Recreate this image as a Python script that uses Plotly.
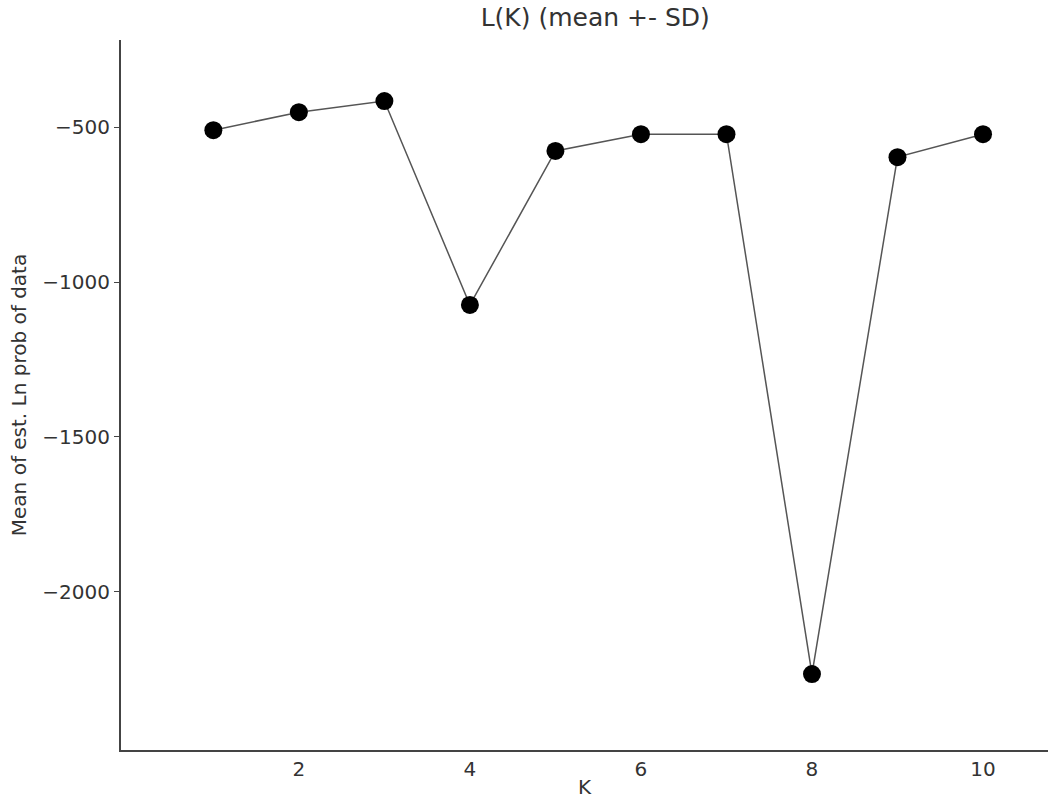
import plotly.graph_objects as go

K = [1, 2, 3, 4, 5, 6, 7, 8, 9, 10]
mean_lnp = [-510, -452, -416, -1074, -577, -523, -523, -2265, -597, -523]
x_ticks = [2, 4, 6, 8, 10]
y_ticks = [-500, -1000, -1500, -2000]

fig = go.Figure()
fig.add_trace(go.Scatter(
    x=K, y=mean_lnp, mode="lines+markers",
    line=dict(color="#555555", width=1.5),
    marker=dict(color="black", size=18),
    showlegend=False,
))

font = "DejaVu Sans, Arial, sans-serif"
txt = "#333333"
fig.update_layout(
    width=1048, height=806,
    paper_bgcolor="white", plot_bgcolor="white",
    margin=dict(l=121, r=0, t=40, b=56, autoexpand=False),
    title=dict(text="L(K) (mean +- SD)", x=0.568, xanchor="center",
               y=0.978, yanchor="middle",
               font=dict(family=font, size=25, color=txt)),
    font=dict(family=font, size=20, color=txt),
    xaxis=dict(range=[-0.08, 10.76], tickvals=x_ticks, showgrid=False,
               automargin=False,
               zeroline=False, showline=True, linecolor="#444444", linewidth=2,
               ticks="", title=dict(text="K", standoff=0,
                                    font=dict(size=20, color=txt)),
               tickfont=dict(size=20, color=txt)),
    yaxis=dict(range=[-2510, -219], tickvals=y_ticks, showgrid=False,
               automargin=False,
               zeroline=False, showline=True, linecolor="#444444", linewidth=2,
               ticks="outside", ticklen=5, tickcolor="#444444",
               title=dict(text="Mean of est. Ln prob of data", standoff=10,
                          font=dict(size=20, color=txt)),
               tickfont=dict(size=20, color=txt)),
)

post = (
    "document.body.style.margin='0';"
    "document.body.style.overflow='hidden';"
    "var gd=document.getElementById('{plot_id}');"
    "Plotly.relayout(gd,{width:1048,height:806});"
)
fig.write_html("out.html", post_script=post, config={"displayModeBar": False})
